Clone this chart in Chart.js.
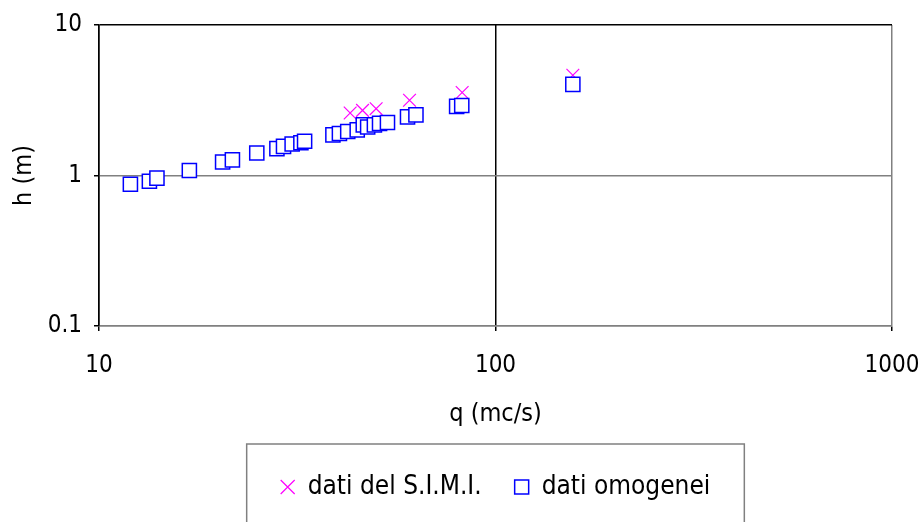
<!DOCTYPE html>
<html>
<head>
<meta charset="utf-8">
<script src="https://cdn.jsdelivr.net/npm/chart.js@4.4.1/dist/chart.umd.min.js"></script>
<style>
  html, body { margin: 0; padding: 0; background: #fff; }
  #wrap { width: 918px; height: 522px; }
</style>
</head>
<body>
<div id="wrap"><canvas id="scaleChart"></canvas></div>
<script>
// dati del S.I.M.I. (portata q in mc/s, altezza h in m)
const simiQ = [43.0, 46.2, 50.0, 60.7, 82.4, 156.7];
const simiH = [2.60, 2.71, 2.78, 3.16, 3.56, 4.64];

// dati omogenei
const omogQ = [12.0, 13.4, 14.0, 16.9, 20.5, 21.7, 25.0, 28.1, 29.2, 30.7, 32.3, 33.0,
               38.9, 40.4, 42.4, 44.8, 46.4, 47.6, 49.5, 51.0, 53.4, 60.0, 63.0, 79.8, 82.2, 156.7];
const omogH = [0.874, 0.916, 0.96, 1.08, 1.23, 1.27, 1.41, 1.51, 1.56, 1.62, 1.65, 1.69,
               1.86, 1.90, 1.96, 2.01, 2.17, 2.10, 2.17, 2.22, 2.25, 2.45, 2.53, 2.88, 2.92, 4.03];

const xTicks = [10, 100, 1000];
const yTicks = [0.1, 1, 10];

const FONT = "'Liberation Sans Narrow', 'DejaVu Sans Condensed', 'Liberation Sans', sans-serif";

function toPoints(xs, ys) {
    return xs.map((x, i) => ({ x: x, y: ys[i] }));
}

// grey frame around the legend, open at the bottom like the original
const legendFrame = {
    id: 'legendFrame',
    afterDraw(chart) {
        const lg = chart.legend;
        if (!lg || !lg.legendHitBoxes || !lg.legendHitBoxes.length) return;
        const boxes = lg.legendHitBoxes;
        const first = boxes[0];
        const last = boxes[boxes.length - 1];
        const mid = first.top + first.height / 2;
        const left = first.left - 34;
        const right = last.left + last.width + 34;
        const top = mid - 43;
        const ctx = chart.ctx;
        ctx.save();
        ctx.strokeStyle = '#808080';
        ctx.lineWidth = 1.5;
        ctx.strokeRect(left, top, right - left, chart.height + 10 - top);
        ctx.restore();
    }
};

const ctx = document.getElementById('scaleChart').getContext('2d');
new Chart(ctx, {
    type: 'scatter',
    data: {
        datasets: [{
            label: 'dati del S.I.M.I.',
            data: toPoints(simiQ, simiH),
            pointStyle: 'crossRot',
            pointRadius: 9,
            borderColor: '#ff00ff',
            backgroundColor: '#ff00ff',
            borderWidth: 1.2,
            order: 2
        }, {
            label: 'dati omogenei',
            data: toPoints(omogQ, omogH),
            pointStyle: 'rect',
            pointRadius: 10,
            borderColor: '#0000ff',
            backgroundColor: '#ffffff',
            borderWidth: 1.5,
            order: 1
        }]
    },
    options: {
        responsive: true,
        maintainAspectRatio: false,
        animation: false,
        layout: {
            padding: { top: 25, right: 26, left: 0, bottom: 12 }
        },
        scales: {
            x: {
                type: 'logarithmic',
                min: 10,
                max: 1000,
                afterBuildTicks: (scale) => { scale.ticks = xTicks.map(v => ({ value: v })); },
                afterFit: (scale) => {
                    scale.height = 115;
                    scale.paddingLeft = 0;
                    scale.paddingRight = 0;
                },
                ticks: {
                    color: '#000',
                    font: { family: FONT, size: 24 },
                    padding: 20,
                    maxRotation: 0,
                    callback: (v) => String(v)
                },
                grid: {
                    color: (c) => (c.tick && c.tick.value === 1000) ? '#808080' : '#000',
                    lineWidth: 1.5,
                    tickLength: 5,
                    tickColor: '#000'
                },
                border: { color: '#808080', width: 1.5 },
                title: {
                    display: true,
                    text: 'q (mc/s)',
                    color: '#000',
                    font: { family: FONT, size: 25 },
                    padding: { top: 0, bottom: 12 }
                }
            },
            y: {
                type: 'logarithmic',
                min: 0.1,
                max: 10,
                afterBuildTicks: (scale) => { scale.ticks = yTicks.map(v => ({ value: v })); },
                afterFit: (scale) => {
                    scale.width = 99;
                    scale.paddingTop = 0;
                    scale.paddingBottom = 0;
                },
                ticks: {
                    color: '#000',
                    font: { family: FONT, size: 24 },
                    padding: 12,
                    callback: (v) => String(v)
                },
                grid: {
                    color: (c) => (c.tick && c.tick.value === 10) ? '#000' : '#808080',
                    lineWidth: 1.5,
                    tickLength: 5,
                    tickColor: '#000'
                },
                border: { color: '#000', width: 1.5 },
                title: {
                    display: true,
                    text: 'h (m)',
                    color: '#000',
                    font: { family: FONT, size: 25 },
                    padding: { top: 9, bottom: 0 }
                }
            }
        },
        plugins: {
            legend: {
                position: 'bottom',
                fullSize: false,
                labels: {
                    usePointStyle: true,
                    boxWidth: 14,
                    boxHeight: 14,
                    padding: 33,
                    color: '#000',
                    font: { family: FONT, size: 26 },
                    sort: (a, b) => a.datasetIndex - b.datasetIndex
                }
            },
            tooltip: { enabled: false }
        }
    },
    plugins: [legendFrame]
});
</script>
</body>
</html>
